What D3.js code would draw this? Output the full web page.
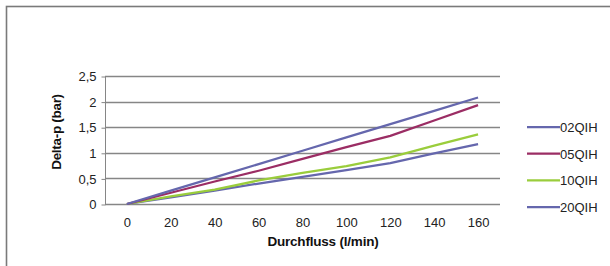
<!DOCTYPE html>
<html>
    <head>
        <script src="https://cdnjs.cloudflare.com/ajax/libs/d3/7.8.5/d3.min.js"></script>
        <title>Delta-p Durchfluss</title>
        <style>
            html, body {
                margin: 0;
                background: #fff;
            }
            .svg_canvas {
                display: block;
                font-family: "Liberation Sans", Arial, sans-serif;
            }
        </style>
    </head>
    <body>
        <svg width="610" height="266" class="svg_canvas"></svg>

        <script>
            // categories (l/min)
            var categories = [0, 20, 40, 60, 80, 100, 120, 140, 160];

            // series values (bar)
            var s02QIH = [0, 0.26, 0.52, 0.78, 1.04, 1.30, 1.56, 1.82, 2.08];
            var s05QIH = [0, 0.22, 0.44, 0.65, 0.88, 1.11, 1.33, 1.63, 1.93];
            var s10QIH = [0, 0.15, 0.28, 0.46, 0.61, 0.74, 0.91, 1.14, 1.36];
            var s20QIH = [0, 0.13, 0.26, 0.40, 0.53, 0.66, 0.80, 0.99, 1.17];

            var seriesNames = ["02QIH", "05QIH", "10QIH", "20QIH"];
            var seriesColors = ["#6567ad", "#9b2d64", "#9acd3c", "#6567ad"];

            var yTicks = [0, 0.5, 1, 1.5, 2, 2.5];

            var series = [s02QIH, s05QIH, s10QIH, s20QIH].map(function(v, i) {
                return { name: seriesNames[i], color: seriesColors[i], values: v };
            });

            var svg = d3.select(".svg_canvas");

            // outer chart frame (right/bottom edges fall outside the view)
            svg.append("rect")
                .attr("x", 6.5)
                .attr("y", 6.5)
                .attr("width", 640)
                .attr("height", 300)
                .attr("fill", "none")
                .attr("stroke", "#7a7a7a")
                .attr("stroke-width", 1.6);

            var x = d3.scalePoint()
                .domain(categories)
                .range([105, 500])
                .padding(0.5);

            var y = d3.scaleLinear()
                .domain([0, 2.5])
                .range([204, 76]);

            var fmt = function(d) { return String(d).replace(".", ","); };

            // gridlines
            svg.append("g")
                .selectAll("line")
                .data(yTicks)
                .enter()
                .append("line")
                .attr("x1", 105)
                .attr("x2", 500)
                .attr("y1", function(d) { return Math.round(y(d)) + 0.5; })
                .attr("y2", function(d) { return Math.round(y(d)) + 0.5; })
                .attr("stroke", "#868686")
                .attr("stroke-width", 1.3);

            // y axis
            var yAxis = svg.append("g")
                .attr("transform", "translate(105.5,0.5)")
                .call(d3.axisLeft(y).tickValues(yTicks).tickFormat(fmt).tickSize(4).tickPadding(5));
            yAxis.select(".domain").attr("stroke", "#868686").attr("d", "M0," + y(2.5) + "V" + y(0));
            yAxis.selectAll(".tick line").attr("stroke", "#868686");
            yAxis.selectAll("text")
                .attr("font-size", 13)
                .attr("fill", "#222")
                .attr("font-family", "Liberation Sans, Arial, sans-serif");

            // x axis labels
            var xAxis = svg.append("g")
                .attr("transform", "translate(0,204)")
                .call(d3.axisBottom(x).tickSize(0).tickPadding(14));
            xAxis.select(".domain").remove();
            xAxis.selectAll("text")
                .attr("font-size", 13)
                .attr("fill", "#222")
                .attr("font-family", "Liberation Sans, Arial, sans-serif");

            // lines
            var line = d3.line()
                .x(function(d, i) { return x(categories[i]); })
                .y(function(d) { return y(d); });

            svg.append("g")
                .selectAll("path")
                .data(series.slice().reverse())
                .enter()
                .append("path")
                .attr("d", function(d) { return line(d.values); })
                .attr("fill", "none")
                .attr("stroke", function(d) { return d.color; })
                .attr("stroke-width", 2.25)
                .attr("stroke-linejoin", "round");

            // axis titles
            svg.append("text")
                .attr("x", 323)
                .attr("y", 246)
                .attr("text-anchor", "middle")
                .attr("font-size", 13.5)
                .attr("font-weight", "bold")
                .attr("letter-spacing", -0.2)
                .attr("fill", "#111")
                .text("Durchfluss (l/min)");

            svg.append("text")
                .attr("transform", "translate(61,132) rotate(-90)")
                .attr("text-anchor", "middle")
                .attr("font-size", 13.5)
                .attr("font-weight", "bold")
                .attr("letter-spacing", -0.3)
                .attr("fill", "#111")
                .text("Delta-p (bar)");

            // legend
            var legend = svg.append("g")
                .selectAll("g")
                .data(series)
                .enter()
                .append("g")
                .attr("transform", function(d, i) { return "translate(527," + (127 + i * 26.7) + ")"; });

            legend.append("line")
                .attr("x1", 0)
                .attr("x2", 33)
                .attr("stroke", function(d) { return d.color; })
                .attr("stroke-width", 2.25);

            legend.append("text")
                .attr("x", 33)
                .attr("y", 5)
                .attr("font-size", 13)
                .attr("fill", "#222")
                .text(function(d) { return d.name; });
        </script>
    </body>
</html>
